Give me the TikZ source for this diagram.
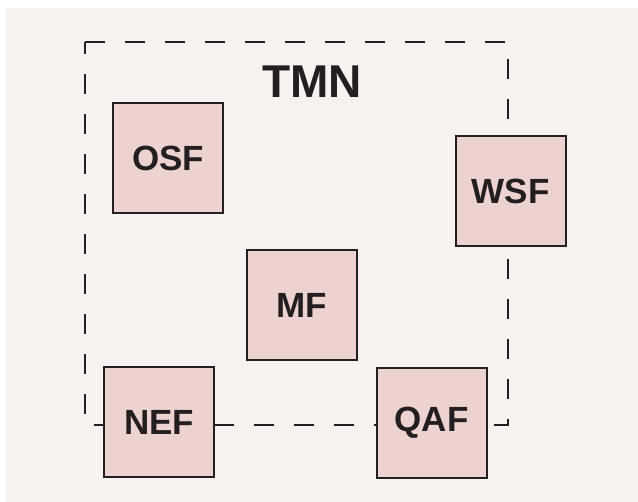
\documentclass[tikz,border=0pt]{standalone}
\usepackage{fontspec}
\setmainfont{Liberation Sans}
\definecolor{paper}{HTML}{F6F2EF}
\definecolor{boxfill}{HTML}{EDD3CF}
\definecolor{ink}{HTML}{231F20}
\tikzset{
  fbox/.style={draw=ink, line width=2pt, fill=boxfill, minimum width=110pt, minimum height=110pt, inner sep=0pt, font=\bfseries\fontsize{35}{35}\selectfont, text=ink},
  boundary/.style={draw=ink, line width=2pt, dash pattern=on 20pt off 20pt},
  title/.style={font=\bfseries\fontsize{46}{46}\selectfont, text=ink, inner sep=0pt}
}
\begin{document}
\begin{tikzpicture}[x=1pt,y=-1pt]
\fill[white] (0,0) rectangle (638,502);
\useasboundingbox (0,0) rectangle (638,502);
\fill[paper] (6,8) rectangle (638,502);
\coordinate (tl) at (85,42);
\coordinate (tr) at (508,42);
\coordinate (br) at (508,425);
\coordinate (bl) at (85,425);
\draw[boundary] (tl) -- (tr) -- (br) -- (bl) -- cycle;
\node[title] (tmn) at (312,82) {TMN};
\node[fbox] (osf) at (168,158.5) {OSF};
\node[fbox] (wsf) at (510.5,191.5) {WSF};
\node[fbox] (mf) at (301.5,305) {MF};
\node[fbox] (nef) at (159,422) {NEF};
\node[fbox] (qaf) at (431.5,423) {QAF};
\end{tikzpicture}
\end{document}
